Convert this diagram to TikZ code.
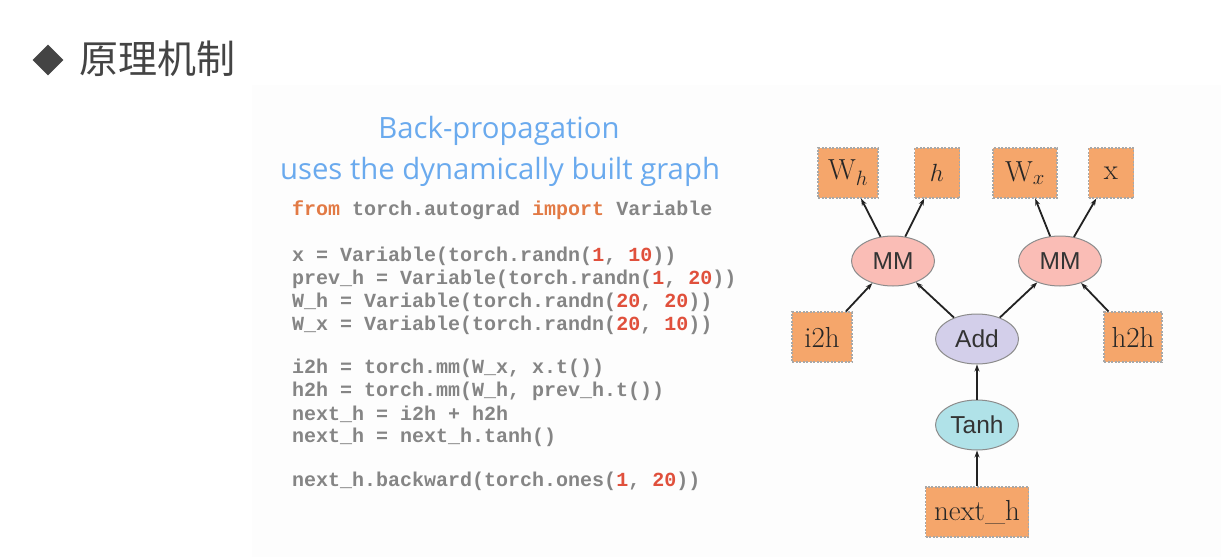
\documentclass[tikz,border=0pt]{standalone}
\usepackage{fontspec}
\setsansfont{Liberation Sans}
\setmonofont{Liberation Mono}
\newfontfamily\cjk{Noto Sans CJK SC}
\newfontfamily\headfont{Open Sans}
\usetikzlibrary{arrows.meta,shapes.geometric}
\definecolor{titlegray}{HTML}{444444}
\definecolor{headblue}{HTML}{6AAAEE}
\definecolor{codegray}{HTML}{858585}
\definecolor{kworange}{HTML}{E27A45}
\definecolor{numred}{HTML}{E0503C}
\definecolor{boxorange}{HTML}{F5A66B}
\definecolor{boxborder}{HTML}{A8A8A8}
\definecolor{mmfill}{HTML}{FABDB6}
\definecolor{addfill}{HTML}{D3CFEA}
\definecolor{tanhfill}{HTML}{B0E2E8}
\definecolor{ellborder}{HTML}{8C8C8C}
\definecolor{arrowcol}{HTML}{222222}
\definecolor{panelgray}{HTML}{FDFDFD}
\newcommand{\kwd}[1]{\textcolor{kworange}{#1}}
\newcommand{\numr}[1]{\textcolor{numred}{#1}}
\tikzset{
  codeline/.style={anchor=west, inner sep=0pt, text=codegray, font=\ttfamily\bfseries\fontsize{20}{22}\selectfont},
  varbox/.style={rectangle, fill=boxorange, draw=boxborder, dashed, dash pattern=on 2pt off 1.5pt, line width=1.2pt, minimum height=50pt, inner sep=0pt, text=black!85, font=\fontsize{29}{31}\selectfont},
  opnode/.style={ellipse, draw=ellborder, line width=1pt, minimum width=83pt, minimum height=50pt, inner sep=0pt, text=black!80, font=\sffamily\fontsize{24.5}{26}\selectfont},
  conn/.style={-{Stealth[length=7pt,width=5pt]}, line width=1.8pt, draw=arrowcol}
}
\begin{document}
\begin{tikzpicture}[x=1pt,y=-1pt]
\useasboundingbox (0,0) rectangle (1221,557);
\fill[white] (0,0) rectangle (1221,557);
\fill[panelgray] (252,85) rectangle (1221,557);
% title
\node[diamond, fill=titlegray, minimum width=31pt, minimum height=31pt, inner sep=0pt] (bullet) at (48,60) {};
\node[anchor=west, inner sep=0pt, text=titlegray, font=\cjk\fontsize{39}{40}\selectfont] (title) at (79,59) {原理机制};
% heading
\node[inner sep=0pt, text=headblue, font=\headfont\fontsize{29.3}{31}\selectfont] (head1) at (499,131) {Back-propagation};
\node[inner sep=0pt, text=headblue, font=\headfont\fontsize{29.3}{31}\selectfont] (head2) at (500,172) {uses the dynamically built graph};
% code
\node[codeline] (c1) at (292,210) {\kwd{from} torch.autograd \kwd{import} Variable};
\node[codeline] (c2) at (292,256) {x = Variable(torch.randn(\numr{1}, \numr{10}))};
\node[codeline] (c3) at (292,279) {prev\_h = Variable(torch.randn(\numr{1}, \numr{20}))};
\node[codeline] (c4) at (292,302) {W\_h = Variable(torch.randn(\numr{20}, \numr{20}))};
\node[codeline] (c5) at (292,325) {W\_x = Variable(torch.randn(\numr{20}, \numr{10}))};
\node[codeline] (c6) at (292,368) {i2h = torch.mm(W\_x, x.t())};
\node[codeline] (c7) at (292,391) {h2h = torch.mm(W\_h, prev\_h.t())};
\node[codeline] (c8) at (292,414) {next\_h = i2h + h2h};
\node[codeline] (c9) at (292,437) {next\_h = next\_h.tanh()};
\node[codeline] (c10) at (292,481) {next\_h.backward(torch.ones(\numr{1}, \numr{20}))};
% graph
\node[varbox, minimum width=60pt] (wh) at (848,173) {W$_h$};
\node[varbox, minimum width=45pt] (hh) at (937,173) {$h$};
\node[varbox, minimum width=64pt] (wx) at (1025,173) {W$_x$};
\node[varbox, minimum width=45pt] (xx) at (1111,173) {x};
\node[opnode, fill=mmfill] (mm1) at (893,261) {MM};
\node[opnode, fill=mmfill] (mm2) at (1060,261) {MM};
\node[varbox, minimum width=60pt] (i2h) at (822,337) {i2h};
\node[opnode, fill=addfill] (add) at (977,339) {Add};
\node[varbox, minimum width=58pt] (h2h) at (1133,337) {h2h};
\node[opnode, fill=tanhfill] (tanh) at (977,425) {Tanh};
\node[varbox, minimum width=103pt] (nexth) at (977,512) {next\_h};
\draw[conn] (mm1) -- (wh);
\draw[conn] (mm1) -- (hh);
\draw[conn] (mm2) -- (wx);
\draw[conn] (mm2) -- (xx);
\draw[conn] (i2h) -- (mm1);
\draw[conn] (add) -- (mm1);
\draw[conn] (add) -- (mm2);
\draw[conn] (h2h) -- (mm2);
\draw[conn] (tanh) -- (add);
\draw[conn] (nexth) -- (tanh);
\end{tikzpicture}
\end{document}
